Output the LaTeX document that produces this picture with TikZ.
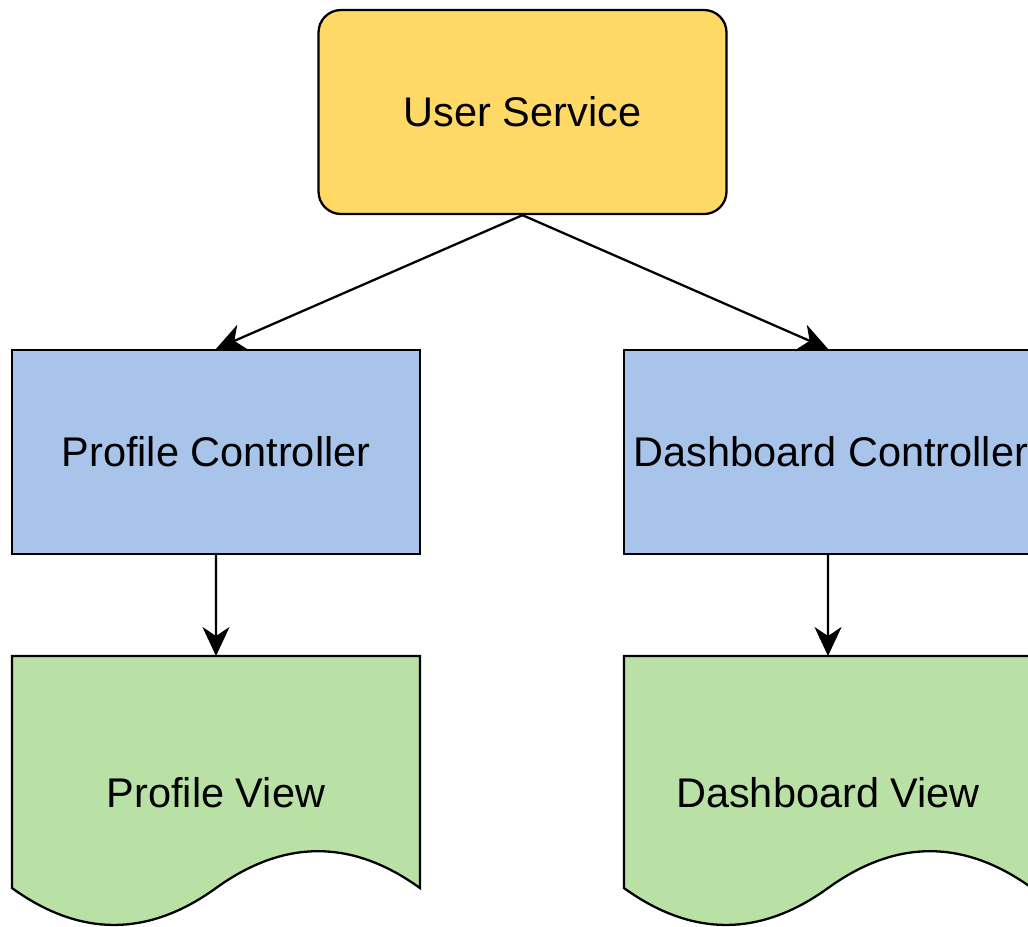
\documentclass[tikz,border=0pt]{standalone}
\usepackage{fontspec}
\setmainfont{Liberation Sans}
\usetikzlibrary{arrows.meta, positioning}
\definecolor{svcyellow}{HTML}{FFD966}
\definecolor{ctlblue}{HTML}{A9C4EB}
\definecolor{viewgreen}{HTML}{B9E0A5}

\begin{document}
\begin{tikzpicture}[
  svcbox/.style={draw, rounded corners=0.45cm, fill=svcyellow, line width=1.3pt,
                 minimum width=8.16cm, minimum height=4.08cm, inner sep=0pt,
                 font=\fontsize{23.6}{28}\selectfont},
  ctlbox/.style={draw, fill=ctlblue, line width=1.3pt, minimum width=8.16cm,
                 minimum height=4.08cm, inner sep=0pt,
                 font=\fontsize{23.6}{28}\selectfont},
  viewbox/.style={minimum width=8.16cm, minimum height=5.46cm, inner sep=0pt,
                  outer sep=0pt, anchor=north west,
                  font=\fontsize{23.6}{28}\selectfont},
  viewshape/.style={draw, fill=viewgreen, line width=1.3pt},
  arr/.style={-{Stealth[length=5.8mm, width=5.4mm, inset=1.8mm]}, line width=1.3pt}
]
\useasboundingbox (0,0) rectangle (20.56,-18.52);
\clip (0,0) rectangle (20.56,-18.52);
% service (top)
\node[svcbox] (svc) at (10.45,-2.24) {User Service};
% controllers
\node[ctlbox] (pctl) at (4.32,-9.04) {Profile Controller};
\node[ctlbox] (dctl) at (16.56,-9.04) {\hspace{0.12cm}Dashboard Controller};
% views: document outline first, text on top
\coordinate (pv) at (0.24,-13.12);
\coordinate (dv) at (12.48,-13.12);
\draw[viewshape, shift={(pv)}] (0,0) -- (8.16,0) -- (8.16,-4.641)
  .. controls (6.8,-3.658) and (5.44,-3.658) .. (4.08,-4.641)
  .. controls (2.72,-5.624) and (1.36,-5.624) .. (0,-4.641) -- cycle;
\draw[viewshape, shift={(dv)}] (0,0) -- (8.16,0) -- (8.16,-4.641)
  .. controls (6.8,-3.658) and (5.44,-3.658) .. (4.08,-4.641)
  .. controls (2.72,-5.624) and (1.36,-5.624) .. (0,-4.641) -- cycle;
\node[viewbox] (pview) at (pv) {Profile View};
\node[viewbox] (dview) at (dv) {Dashboard View};
% connectors
\draw[arr] (svc.south) -- (pctl.north);
\draw[arr] (svc.south) -- (dctl.north);
\draw[arr] (pctl.south) -- (pview.north);
\draw[arr] (dctl.south) -- (dview.north);
\end{tikzpicture}
\end{document}
